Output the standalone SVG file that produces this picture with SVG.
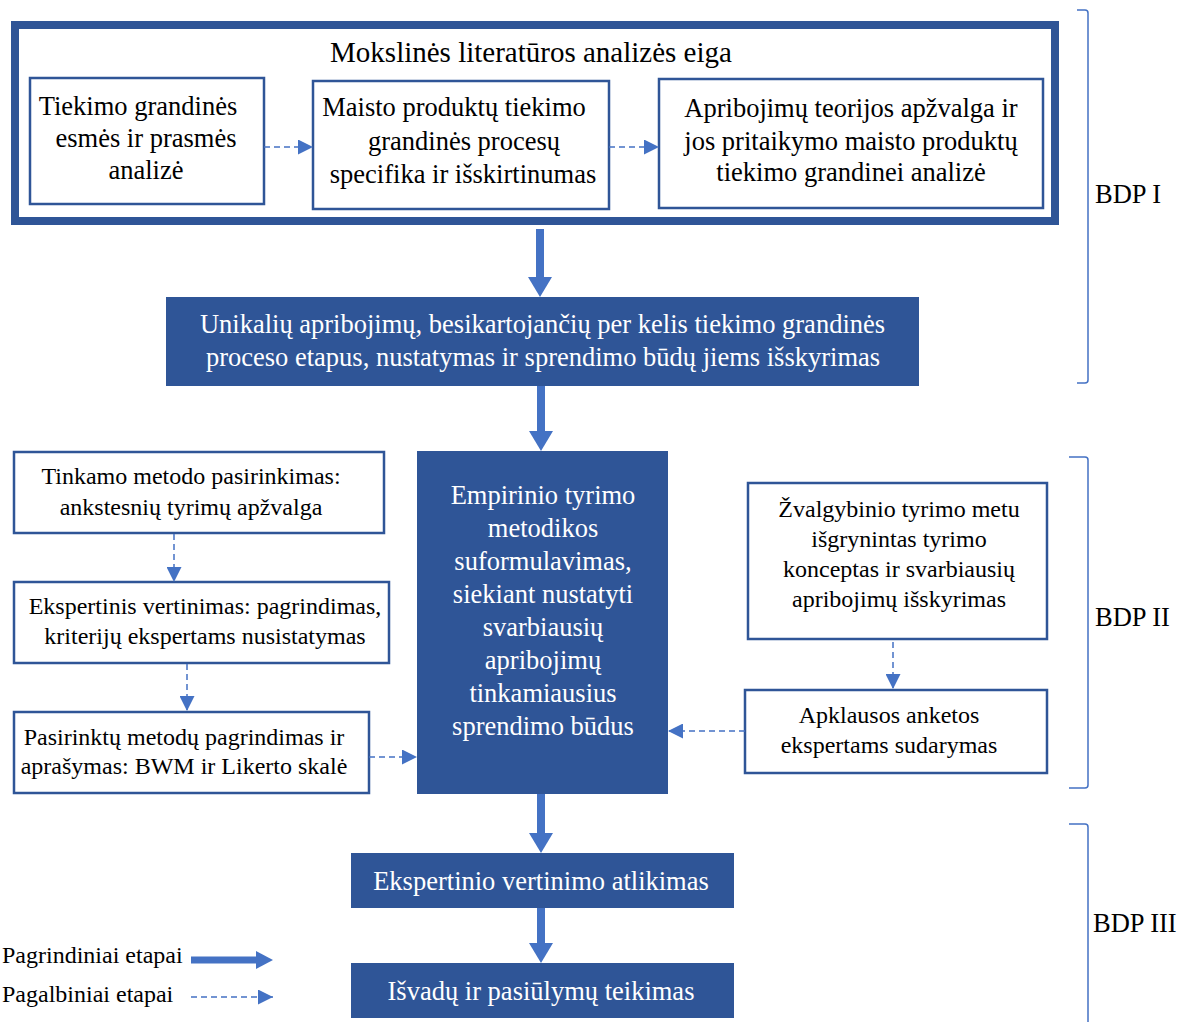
<svg xmlns="http://www.w3.org/2000/svg" width="1179" height="1022" viewBox="0 0 1179 1022">
  <style>
    text { font-family: "Liberation Serif", "Times New Roman", serif; font-size: 26.5px; fill: #000; }
    .c { text-anchor: middle; }
    .w { fill: #fff; }
    .s { font-size: 24px; }
    .t { font-size: 29px; }
    .box { fill: #fff; stroke: #2F5597; stroke-width: 2.5; }
    .solid { fill: #2F5597; }
    .frame { fill: none; stroke: #2F5597; stroke-width: 8; }
    .main { stroke: #4472C4; stroke-width: 8; fill: none; }
    .aux { stroke: #4472C4; stroke-width: 1.5; stroke-dasharray: 6 4; fill: none; }
    .brace { stroke: #4472C4; stroke-width: 1.5; fill: none; }
  </style>
  <defs>
    <marker id="main-head" markerUnits="userSpaceOnUse" viewBox="0 0 20 24" markerWidth="20" markerHeight="24" refX="0" refY="12" orient="auto">
      <path d="M0,0 L20,12 L0,24 Z" fill="#4472C4"/>
    </marker>
    <marker id="main-head-sm" markerUnits="userSpaceOnUse" viewBox="0 0 17 18" markerWidth="17" markerHeight="18" refX="0" refY="9" orient="auto">
      <path d="M0,0 L17,9 L0,18 Z" fill="#4472C4"/>
    </marker>
    <marker id="aux-head" markerUnits="userSpaceOnUse" viewBox="0 0 15 15" markerWidth="15" markerHeight="15" refX="15" refY="7.5" orient="auto">
      <path d="M0,0 L15,7.5 L0,15 Z" fill="#4472C4"/>
    </marker>
  </defs>

  <!-- Literature analysis frame -->
  <g id="literature-frame">
    <rect class="frame" x="15" y="25" width="1040" height="196"/>
    <text class="c t" x="531" y="62">Mokslinės literatūros analizės eiga</text>
  </g>

  <g id="node-supply-chain-essence">
    <rect class="box" x="30" y="78" width="234" height="126"/>
    <text class="c" x="138" y="115">Tiekimo grandinės</text>
    <text class="c" x="146" y="147">esmės ir prasmės</text>
    <text class="c" x="146" y="179">analizė</text>
  </g>

  <g id="node-food-chain-specifics">
    <rect class="box" x="313" y="81" width="296" height="128"/>
    <text class="c" x="454" y="116">Maisto produktų tiekimo</text>
    <text class="c" x="464" y="150">grandinės procesų</text>
    <text class="c" x="463" y="183">specifika ir išskirtinumas</text>
  </g>

  <g id="node-toc-review">
    <rect class="box" x="659" y="79" width="384" height="129"/>
    <text class="c" x="851" y="117">Apribojimų teorijos apžvalga ir</text>
    <text class="c" x="851" y="150">jos pritaikymo maisto produktų</text>
    <text class="c" x="851" y="181">tiekimo grandinei analizė</text>
  </g>

  <g id="node-unique-constraints">
    <rect class="solid" x="166" y="297" width="753" height="89"/>
    <text class="c w" x="542.5" y="333">Unikalių apribojimų, besikartojančių per kelis tiekimo grandinės</text>
    <text class="c w" x="543" y="366">proceso etapus, nustatymas ir sprendimo būdų jiems išskyrimas</text>
  </g>

  <g id="node-empirical-method">
    <rect class="solid" x="417" y="451" width="251" height="343"/>
    <text class="c w" x="543" y="504">Empirinio tyrimo</text>
    <text class="c w" x="543" y="537">metodikos</text>
    <text class="c w" x="543" y="570">suformulavimas,</text>
    <text class="c w" x="543" y="603">siekiant nustatyti</text>
    <text class="c w" x="543" y="636">svarbiausių</text>
    <text class="c w" x="543" y="669">apribojimų</text>
    <text class="c w" x="543" y="702">tinkamiausius</text>
    <text class="c w" x="543" y="735">sprendimo būdus</text>
  </g>

  <g id="node-method-choice">
    <rect class="box" x="14" y="452" width="370" height="81"/>
    <text class="c s" x="191" y="484">Tinkamo metodo pasirinkimas:</text>
    <text class="c s" x="191" y="515">ankstesnių tyrimų apžvalga</text>
  </g>

  <g id="node-expert-criteria">
    <rect class="box" x="14" y="582" width="375" height="81"/>
    <text class="c s" x="205" y="614">Ekspertinis vertinimas: pagrindimas,</text>
    <text class="c s" x="205" y="644">kriterijų ekspertams nusistatymas</text>
  </g>

  <g id="node-methods-description">
    <rect class="box" x="14" y="712" width="355" height="81"/>
    <text class="c s" x="184" y="745">Pasirinktų metodų pagrindimas ir</text>
    <text class="c s" x="184" y="774">aprašymas: BWM ir Likerto skalė</text>
  </g>

  <g id="node-exploratory-study">
    <rect class="box" x="748" y="483" width="299" height="156"/>
    <text class="c s" x="899" y="517">Žvalgybinio tyrimo metu</text>
    <text class="c s" x="899" y="547">išgrynintas tyrimo</text>
    <text class="c s" x="899" y="577">konceptas ir svarbiausių</text>
    <text class="c s" x="899" y="607">apribojimų išskyrimas</text>
  </g>

  <g id="node-questionnaire">
    <rect class="box" x="745" y="690" width="302" height="83"/>
    <text class="c s" x="889" y="723">Apklausos anketos</text>
    <text class="c s" x="889" y="753">ekspertams sudarymas</text>
  </g>

  <g id="node-expert-evaluation">
    <rect class="solid" x="351" y="853" width="383" height="55"/>
    <text class="c w" x="541" y="890">Ekspertinio vertinimo atlikimas</text>
  </g>

  <g id="node-conclusions">
    <rect class="solid" x="351" y="963" width="383" height="55"/>
    <text class="c w" x="541" y="1000">Išvadų ir pasiūlymų teikimas</text>
  </g>

  <!-- Connectors -->
  <g id="connectors">
    <line class="main" x1="540" y1="229" x2="540" y2="277" marker-end="url(#main-head)"/>
    <line class="main" x1="541" y1="386" x2="541" y2="431" marker-end="url(#main-head)"/>
    <line class="main" x1="541" y1="794" x2="541" y2="833" marker-end="url(#main-head)"/>
    <line class="main" x1="541" y1="908" x2="541" y2="943" marker-end="url(#main-head)"/>

    <line class="aux" x1="264" y1="147" x2="313" y2="147" marker-end="url(#aux-head)"/>
    <line class="aux" x1="609" y1="147" x2="659" y2="147" marker-end="url(#aux-head)"/>
    <line class="aux" x1="174" y1="534" x2="174" y2="582" marker-end="url(#aux-head)"/>
    <line class="aux" x1="187" y1="664" x2="187" y2="711" marker-end="url(#aux-head)"/>
    <line class="aux" x1="369" y1="757" x2="417" y2="757" marker-end="url(#aux-head)"/>
    <line class="aux" x1="893" y1="642" x2="893" y2="689" marker-end="url(#aux-head)"/>
    <line class="aux" x1="745" y1="731" x2="668" y2="731" marker-end="url(#aux-head)"/>
  </g>

  <!-- Stage brackets -->
  <g id="stage-brackets">
    <path class="brace" d="M1077,10 H1085 Q1088,10 1088,13 V380 Q1088,383 1085,383 H1077"/>
    <path class="brace" d="M1069,457 H1085 Q1088,457 1088,460 V785 Q1088,788 1085,788 H1069"/>
    <path class="brace" d="M1069,824 H1085 Q1088,824 1088,827 V1022"/>
    <text x="1095" y="203">BDP I</text>
    <text x="1095" y="626">BDP II</text>
    <text x="1093" y="932">BDP III</text>
  </g>

  <!-- Legend -->
  <g id="legend">
    <text class="s" x="2" y="963">Pagrindiniai etapai</text>
    <text class="s" x="2" y="1002">Pagalbiniai etapai</text>
    <line class="main" style="stroke-width:7" x1="191" y1="960" x2="256" y2="960" marker-end="url(#main-head-sm)"/>
    <line class="aux" x1="191" y1="997" x2="273" y2="997" marker-end="url(#aux-head)"/>
  </g>
</svg>
